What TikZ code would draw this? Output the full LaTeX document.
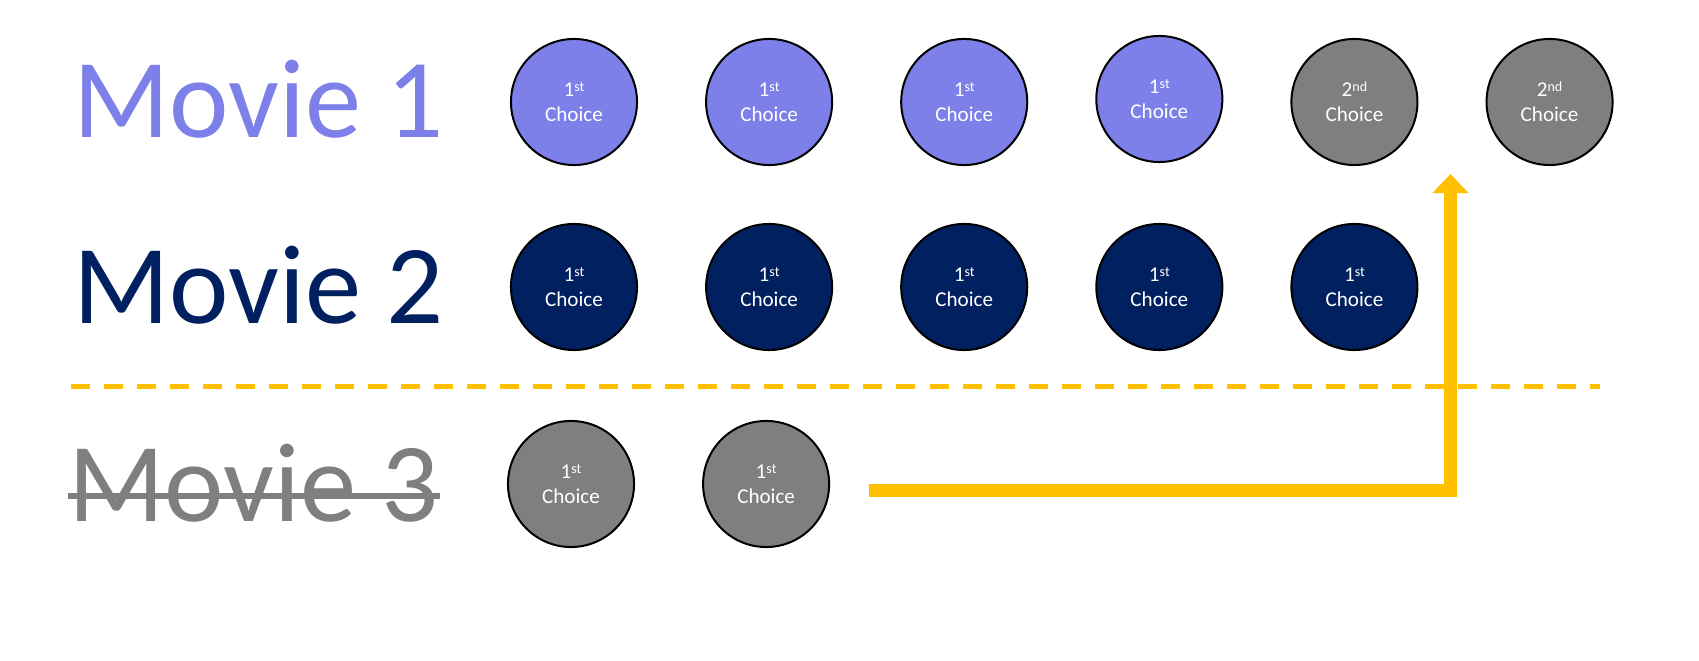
\documentclass[tikz,border=0pt]{standalone}
\usepackage{fontspec}
\setmainfont{Carlito}
\usetikzlibrary{arrows.meta,positioning}
\definecolor{movieone}{RGB}{124,128,232}
\definecolor{movietwo}{RGB}{0,32,96}
\definecolor{dropped}{RGB}{127,127,127}
\definecolor{gold}{RGB}{255,192,0}
\newcommand{\ord}[1]{\raisebox{1.4pt}{\fontsize{4}{4}\selectfont #1}}

\begin{document}
\begin{tikzpicture}[x=0.01cm,y=-0.01cm,node distance=1.95cm]
		\tikzstyle{vote}=[circle,draw=black,line width=0.02cm,minimum size=1.26cm,inner sep=0pt,text=white,align=center,font=\fontsize{6}{7.1}\selectfont]
		\tikzstyle{title}=[anchor=base west,inner sep=0pt,font=\fontsize{32}{38}\selectfont]
		\useasboundingbox (0,0) rectangle (1699,661);
		
		% movie names
		\node[title,text=movieone] (mov1) at (73,138) {Movie 1};
		\node[title,text=movietwo] (mov2) at (73,324) {Movie 2};
		\node[title,text=dropped] (mov3) at (68,522) {Movie 3};
		\draw[dropped,line width=0.06cm] ([yshift=0.26cm]mov3.base west) -- ([yshift=0.26cm]mov3.base east);
		
		% first row
		\node[vote,fill=movieone] (m11) at (574,102) {1\ord{st}\\Choice};
		\node[vote,fill=movieone] (m12) [right of=m11] {1\ord{st}\\Choice};
		\node[vote,fill=movieone] (m13) [right of=m12] {1\ord{st}\\Choice};
		\node[vote,fill=movieone] (m14) [right of=m13,yshift=0.03cm] {1\ord{st}\\Choice};
		\node[vote,fill=dropped] (m15) [right of=m14,yshift=-0.03cm] {2\ord{nd}\\Choice};
		\node[vote,fill=dropped] (m16) [right of=m15] {2\ord{nd}\\Choice};
		
		% second row
		\node[vote,fill=movietwo] (m21) at (574,287) {1\ord{st}\\Choice};
		\node[vote,fill=movietwo] (m22) [right of=m21] {1\ord{st}\\Choice};
		\node[vote,fill=movietwo] (m23) [right of=m22] {1\ord{st}\\Choice};
		\node[vote,fill=movietwo] (m24) [right of=m23] {1\ord{st}\\Choice};
		\node[vote,fill=movietwo] (m25) [right of=m24] {1\ord{st}\\Choice};
		
		% cut line
		\draw[gold,line width=0.05cm,dash pattern=on 0.19cm off 0.14cm] (71,387) -- (1600,387);
		
		% third row
		\node[vote,fill=dropped] (m31) at (571,484) {1\ord{st}\\Choice};
		\node[vote,fill=dropped] (m32) [right of=m31] {1\ord{st}\\Choice};
		
		% votes moved on
		\coordinate (out) at (869,490.5);
		\coordinate (in) at (1450.5,174);
		\draw[gold,line width=0.13cm,line join=miter,-{Triangle[width=0.35cm,length=0.19cm]}] (out) -| (in);
	\end{tikzpicture}
\end{document}
